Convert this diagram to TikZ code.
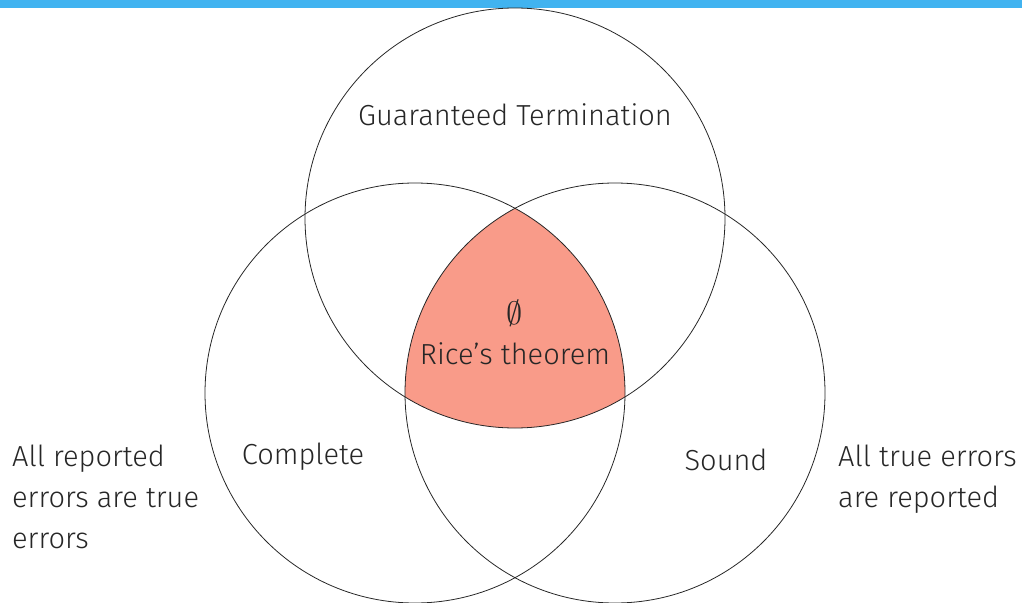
\documentclass[tikz,border=0pt]{standalone}
\usepackage{fontspec}
\setmainfont{Fira Sans Light}
\begin{document}
\begin{tikzpicture}[x=1pt,y=-1pt,
  setcircle/.style={circle,draw=black!85,line width=0.8pt,minimum size=420pt,inner sep=0pt},
  lbl/.style={font=\fontsize{29}{41}\selectfont,text=black!85,inner sep=0pt},
  side/.style={lbl,align=left,anchor=north west}]
\definecolor{barblue}{HTML}{41B3F0}
\definecolor{ricered}{HTML}{F99B89}
\useasboundingbox (0,0) rectangle (1022,602);
\fill[barblue] (0,0) rectangle (1022,8);
% shared region of the three sets
\begin{scope}
  \clip (515,218) circle (210);
  \clip (415,393) circle (210);
  \fill[ricered] (615,393) circle (210);
\end{scope}
\node[setcircle] (term) at (515,218) {};
\node[setcircle] (comp) at (415,393) {};
\node[setcircle] (sound) at (615,393) {};
\node[lbl] (termlbl) at (515,115) {Guaranteed Termination};
\node[lbl,scale=1.3] (empty) at (515,313) {$\emptyset$};
\node[lbl] (rice) at (515,354) {Rice’s theorem};
\node[lbl] (complbl) at (303,457) {Complete};
\node[lbl] (soundlbl) at (726,460) {Sound};
\node[side] (compdesc) at (12,445) {All reported\\errors are true\\errors};
\node[side] (sounddesc) at (838,445) {All true errors\\are reported};
\end{tikzpicture}
\end{document}
